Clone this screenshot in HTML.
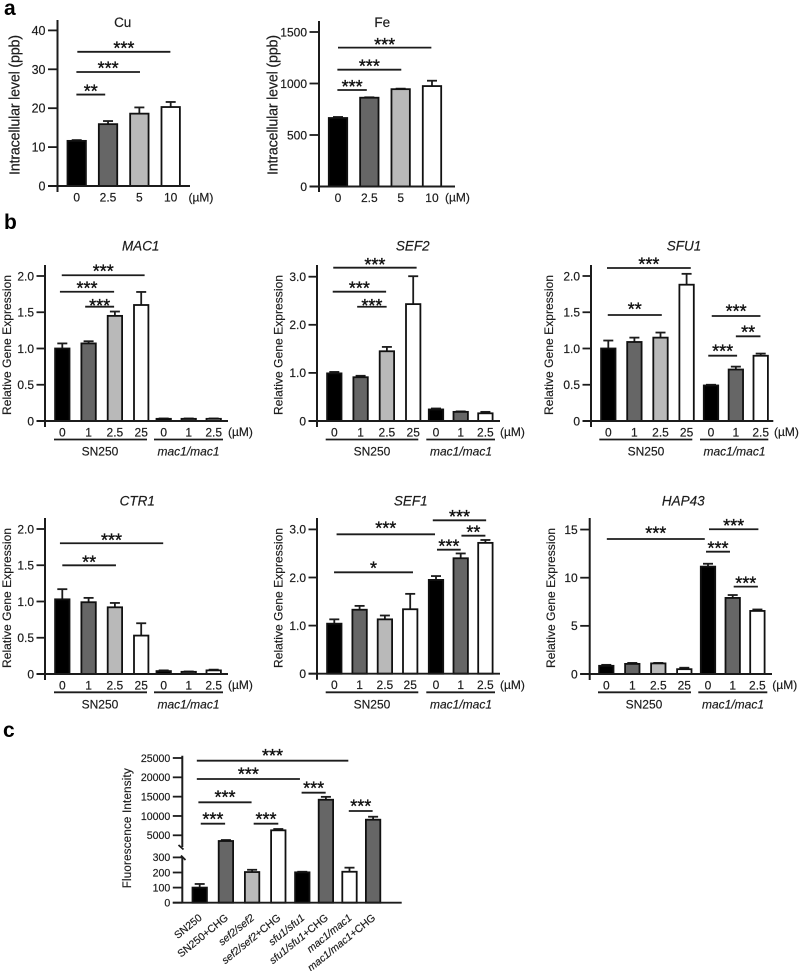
<!DOCTYPE html>
<html lang="en">
<head>
<meta charset="utf-8">
<title>Intracellular metal levels, gene expression and fluorescence intensity</title>
<style>
html,body{margin:0;padding:0;background:#fff;}
svg{display:block;filter:blur(0.3px);}
text{font-family:"Liberation Sans",Arial,sans-serif;fill:#1c1c1c;stroke:#1c1c1c;stroke-width:0.18;}
.tick{font-size:12px;}
.title{font-size:13.5px;text-anchor:middle;}
.it{font-style:italic;}
.ylab{font-size:12px;text-anchor:middle;}
.ylab-large{font-size:14.3px;text-anchor:middle;}
.ylab-small{font-size:11.5px;text-anchor:middle;}
.grp{font-size:12px;text-anchor:middle;}
.unit{font-size:12px;}
.letter{font-size:21px;font-weight:bold;fill:#000;stroke:none;}
.stars{font-size:18px;text-anchor:middle;fill:#111;stroke:#111;stroke-width:0.35;}
.rule{stroke:#1c1c1c;stroke-width:1.8;fill:none;}
</style>
</head>
<body>
<svg id="figure" xmlns="http://www.w3.org/2000/svg" width="800" height="971" viewBox="0 0 800 971">
  <rect x="0" y="0" width="800" height="971" fill="#ffffff"/>

  <text class="letter" x="4" y="15">a</text>
  <text class="letter" x="4" y="229">b</text>
  <text class="letter" x="3" y="737">c</text>

  <g id="chart-cu">
    <text class="title" x="122.7" y="27">Cu</text>
    <text class="ylab-large" transform="translate(19.5 105) rotate(-90)" textLength="140">Intracellular level (ppb)</text>
    <text class="unit" x="188.5" y="201.5">(µM)</text>
  </g>
  <g id="chart-fe">
    <text class="title" x="382.3" y="27">Fe</text>
    <text class="ylab-large" transform="translate(277.7 105) rotate(-90)" textLength="140">Intracellular level (ppb)</text>
    <text class="unit" x="445" y="201.5">(µM)</text>
  </g>

  <g id="chart-mac1">
    <text class="title it" x="140.7" y="250.5">MAC1</text>
    <text class="ylab" transform="translate(11 345) rotate(-90)" textLength="140">Relative Gene Expression</text>
    <text class="unit" x="228" y="436">(µM)</text>
    <line class="rule" x1="54" x2="147" y1="439.5" y2="439.5"/>
    <line class="rule" x1="154" x2="223" y1="439.5" y2="439.5"/>
    <text class="grp" x="100" y="455.3">SN250</text>
    <text class="grp it" x="188.5" y="455.3">mac1/mac1</text>
  </g>
  <g id="chart-sef2">
    <text class="title it" x="412.7" y="250.5">SEF2</text>
    <text class="ylab" transform="translate(282.5 345) rotate(-90)" textLength="140">Relative Gene Expression</text>
    <text class="unit" x="500" y="436">(µM)</text>
    <line class="rule" x1="325.7" x2="418.3" y1="439.5" y2="439.5"/>
    <line class="rule" x1="426.3" x2="495" y1="439.5" y2="439.5"/>
    <text class="grp" x="372" y="455.3">SN250</text>
    <text class="grp it" x="461" y="455.3">mac1/mac1</text>
  </g>
  <g id="chart-sfu1">
    <text class="title it" x="684" y="250.5">SFU1</text>
    <text class="ylab" transform="translate(553 345) rotate(-90)" textLength="140">Relative Gene Expression</text>
    <text class="unit" x="774" y="436">(µM)</text>
    <line class="rule" x1="599.3" x2="692.3" y1="439.5" y2="439.5"/>
    <line class="rule" x1="700" x2="768.3" y1="439.5" y2="439.5"/>
    <text class="grp" x="646" y="455.3">SN250</text>
    <text class="grp it" x="734.5" y="455.3">mac1/mac1</text>
  </g>

  <g id="chart-ctr1">
    <text class="title it" x="137.3" y="505.5">CTR1</text>
    <text class="ylab" transform="translate(11 598) rotate(-90)" textLength="140">Relative Gene Expression</text>
    <text class="unit" x="228" y="689">(µM)</text>
    <line class="rule" x1="54" x2="147" y1="692.3" y2="692.3"/>
    <line class="rule" x1="154" x2="223" y1="692.3" y2="692.3"/>
    <text class="grp" x="100" y="708.5">SN250</text>
    <text class="grp it" x="188.5" y="708.5">mac1/mac1</text>
  </g>
  <g id="chart-sef1">
    <text class="title it" x="410.7" y="505.5">SEF1</text>
    <text class="ylab" transform="translate(282.5 598) rotate(-90)" textLength="140">Relative Gene Expression</text>
    <text class="unit" x="500" y="689">(µM)</text>
    <line class="rule" x1="325.7" x2="418.3" y1="692.3" y2="692.3"/>
    <line class="rule" x1="426.3" x2="495" y1="692.3" y2="692.3"/>
    <text class="grp" x="372" y="708.5">SN250</text>
    <text class="grp it" x="461" y="708.5">mac1/mac1</text>
  </g>
  <g id="chart-hap43">
    <text class="title it" x="683.3" y="505.5">HAP43</text>
    <text class="ylab" transform="translate(555 598) rotate(-90)" textLength="140">Relative Gene Expression</text>
    <text class="unit" x="772.3" y="689">(µM)</text>
    <line class="rule" x1="598" x2="691" y1="692.3" y2="692.3"/>
    <line class="rule" x1="698.3" x2="767.3" y1="692.3" y2="692.3"/>
    <text class="grp" x="644" y="708.5">SN250</text>
    <text class="grp it" x="733" y="708.5">mac1/mac1</text>
  </g>

  <g id="chart-fluorescence">
    <text class="ylab-small" transform="translate(131 828.3) rotate(-90)" textLength="120">Fluorescence Intensity</text>
    <line class="rule" x1="178.5" y1="845" x2="183.5" y2="849.5"/>
    <line class="rule" x1="181" y1="855.5" x2="185.5" y2="860"/>
  </g>
</svg>

<script>
// ---------- chart data ----------
const doseLabels = ['0', '1', '2.5', '25', '0', '1', '2.5'];
const metalDoseLabels = ['0', '2.5', '5', '10'];
const strainLabels = ['SN250', 'SN250+CHG', 'sef2/sef2', 'sef2/sef2+CHG', 'sfu1/sfu1', 'sfu1/sfu1+CHG', 'mac1/mac1', 'mac1/mac1+CHG'];

const cuValues = [11.6, 15.9, 18.6, 20.3];
const cuErrors = [0.2, 0.8, 1.6, 1.3];
const cuTicks = [0, 10, 20, 30, 40];
const cuTickLabels = ['0', '10', '20', '30', '40'];
const cuBrackets = [
  {from: 0.02, to: 2.99, level: 34.5, stars: '***', gap: 7.7},
  {from: -0.01, to: 2.02, level: 29.3, stars: '***', gap: 7.7},
  {from: -0.01, to: 0.91, level: 23.5, stars: '**', gap: 7.7}
];

const feValues = [665, 862, 945, 975];
const feErrors = [10, 4, 5, 52];
const feTicks = [0, 500, 1000, 1500];
const feTickLabels = ['0', '500', '1000', '1500'];
const feBrackets = [
  {from: 0, to: 2.98, level: 1348, stars: '***', gap: 7},
  {from: -0.02, to: 2.02, level: 1134, stars: '***', gap: 7.4},
  {from: -0.02, to: 0.92, level: 937, stars: '***', gap: 7.3}
];

const relTicks2 = [0, 0.5, 1, 1.5, 2];
const relTickLabels2 = ['0', '0.5', '1.0', '1.5', '2.0'];
const relTicks3 = [0, 1, 2, 3];
const relTickLabels3 = ['0', '1.0', '2.0', '3.0'];

const mac1Values = [1.0, 1.07, 1.45, 1.6, 0.03, 0.03, 0.03];
const mac1Errors = [0.07, 0.03, 0.06, 0.18, 0.005, 0.005, 0.005];
const mac1Brackets = [
  {from: -0.02, to: 3.13, level: 2.01, stars: '***', gap: 8.3},
  {from: -0.09, to: 1.97, level: 1.783, stars: '***', gap: 7.7},
  {from: 0.87, to: 1.97, level: 1.577, stars: '***', gap: 5}
];

const sef2Values = [0.99, 0.91, 1.45, 2.43, 0.24, 0.19, 0.16];
const sef2Errors = [0.03, 0.03, 0.09, 0.58, 0.02, 0.01, 0.03];
const sef2Brackets = [
  {from: -0.04, to: 3.13, level: 3.187, stars: '***', gap: 7},
  {from: -0.06, to: 1.97, level: 2.688, stars: '***', gap: 7.4},
  {from: 0.87, to: 1.99, level: 2.376, stars: '***', gap: 5}
];

const sfu1Values = [1.0, 1.09, 1.15, 1.88, 0.49, 0.71, 0.9];
const sfu1Errors = [0.11, 0.06, 0.07, 0.15, 0.01, 0.04, 0.03];
const sfu1Brackets = [
  {from: -0.05, to: 3.16, level: 2.11, stars: '***', gap: 7.7},
  {from: -0.02, to: 2.05, level: 1.462, stars: '**', gap: 9.7},
  {from: 4.03, to: 5.99, level: 1.448, stars: '***', gap: 8.7},
  {from: 5.0, to: 5.99, level: 1.168, stars: '**', gap: 8},
  {from: 3.89, to: 5.05, level: 0.901, stars: '***', gap: 8.4}
];

const ctr1Values = [1.03, 0.99, 0.92, 0.53, 0.04, 0.03, 0.05];
const ctr1Errors = [0.14, 0.06, 0.06, 0.17, 0.01, 0.005, 0.01];
const ctr1Brackets = [
  {from: -0.09, to: 3.98, level: 1.803, stars: '***', gap: 7.3},
  {from: 0, to: 2.04, level: 1.499, stars: '**', gap: 7.3}
];

const sef1Values = [1.04, 1.33, 1.13, 1.34, 1.95, 2.4, 2.72];
const sef1Errors = [0.09, 0.08, 0.08, 0.32, 0.08, 0.1, 0.06];
const sef1Brackets = [
  {from: 0.09, to: 3.96, level: 2.898, stars: '***', gap: 10.3},
  {from: -0.01, to: 3.11, level: 2.108, stars: '*', gap: 8.3},
  {from: 3.87, to: 6.03, level: 3.189, stars: '***', gap: 7.6},
  {from: 5.03, to: 6.0, level: 2.869, stars: '**', gap: 7.4},
  {from: 4.04, to: 5.0, level: 2.578, stars: '***', gap: 7.4}
];

const hap43Values = [0.85, 1.05, 1.1, 0.5, 11.15, 7.9, 6.55];
const hap43Errors = [0.1, 0.1, 0.05, 0.15, 0.3, 0.3, 0.15];
const hap43Ticks = [0, 5, 10, 15];
const hap43TickLabels = ['0', '5', '10', '15'];
const hap43Brackets = [
  {from: 0.02, to: 3.87, level: 14.02, stars: '***', gap: 10},
  {from: 4.04, to: 6.04, level: 15.03, stars: '***', gap: 7.6},
  {from: 3.92, to: 4.89, level: 12.7, stars: '***', gap: 7.4},
  {from: 5.04, to: 6.02, level: 9.07, stars: '***', gap: 7.4}
];

const fluorValues = [100, 3525, 203, 6290, 201, 14200, 205, 9036];
const fluorErrors = [24, 255, 15, 340, 4, 750, 27, 774];
const fluorTicks = [0, 100, 200, 300, 5000, 10000, 15000, 20000, 25000];
const fluorTickLabels = ['0', '100', '200', '300', '5000', '10000', '15000', '20000', '25000'];
const fluorBrackets = [
  {from: -0.11, to: 5.95, level: 24301, stars: '***', gap: 9},
  {from: -0.11, to: 3.9, level: 19566, stars: '***', gap: 8.7},
  {from: -0.05, to: 1.98, level: 13538, stars: '***', gap: 9},
  {from: 0.04, to: 0.97, level: 8001, stars: '***', gap: 8.7},
  {from: 2.06, to: 3.0, level: 8001, stars: '***', gap: 8.7},
  {from: 3.97, to: 4.99, level: 16022, stars: '***', gap: 8.7},
  {from: 5.97, to: 6.98, level: 11287, stars: '***', gap: 8.7}
];

// ---------- drawing helpers ----------
const NS = 'http://www.w3.org/2000/svg';
const INK = '#1c1c1c';
const BLACK = '#000000', DARK = '#666666', LIGHT = '#b9b9b9', WHITE = '#ffffff';

function node(parent, tag, attrs, text) {
  const el = document.createElementNS(NS, tag);
  Object.keys(attrs).forEach(function (k) { el.setAttribute(k, attrs[k]); });
  if (text !== undefined) el.textContent = text;
  parent.appendChild(el);
  return el;
}

function linearY(base, pxPerUnit) {
  return function (v) { return base - v * pxPerUnit; };
}
function brokenY(base, lowPx, anchorValue, anchorY, highPx, limit) {
  return function (v) {
    return v <= limit ? base - v * lowPx : anchorY - (v - anchorValue) * highPx;
  };
}
function bandX(start1, step1, start2, step2) {
  return function (i) {
    return i < 3.6 ? start1 + i * step1 : start2 + (i - 4) * step2;
  };
}

function drawBars(g, x, y, values, errors, fills, barWidth) {
  const y0 = y(0);
  values.forEach(function (v, i) {
    const cx = x(i);
    const top = y(v + errors[i]);
    const stem = node(g, 'line', {x1: cx, x2: cx, y1: y(v), y2: top, stroke: INK, 'stroke-width': 1.8});
    
    
    const cap = node(g, 'line', {x1: cx - 5, x2: cx + 5, y1: top, y2: top, stroke: INK, 'stroke-width': 1.8});
    
    
  });
  values.forEach(function (v, i) {
    const cx = x(i);
    const bar = node(g, 'rect', {x: cx - barWidth / 2, y: y(v), width: barWidth, height: Math.max(0, y0 - y(v)), fill: fills[i % fills.length], stroke: '#111', 'stroke-width': 1.8});
    
    
  });
}

function drawAxes(g, geo, y, ticks, tickLabels) {
  const y0 = y(0);
  const segments = geo.breakAt ? [[geo.top, geo.breakAt[0]], [geo.breakAt[1], y0 + geo.below]] : [[geo.top, y0 + geo.below]];
  segments.forEach(function (s) {
    const axis = node(g, 'line', {x1: geo.axisX, x2: geo.axisX, y1: s[0], y2: s[1], stroke: INK, 'stroke-width': 2});
    
    
  });
  const xAxis = node(g, 'line', {x1: geo.axisX - geo.tickLen, x2: geo.right, y1: y0, y2: y0, stroke: INK, 'stroke-width': 1.9});
  
  
  ticks.forEach(function (t, i) {
    const py = y(t);
    const tick = node(g, 'line', {x1: geo.axisX - geo.tickLen, x2: geo.axisX, y1: py, y2: py, stroke: INK, 'stroke-width': 1.8});
    
    
    const label = node(g, 'text', {class: 'tick', x: geo.axisX - geo.tickLen - 2.5, y: py + geo.tickFont * 0.36, 'text-anchor': 'end', style: 'font-size:' + geo.tickFont + 'px'}, tickLabels[i]);
    
    
  });
}

function drawCategoryLabels(g, x, y, labels) {
  labels.forEach(function (txt, i) {
    const label = node(g, 'text', {class: 'tick', x: x(i), y: y(0) + 15.5, 'text-anchor': 'middle'}, txt);
    
    
  });
}

function drawBrackets(g, x, y, brackets) {
  brackets.forEach(function (b) {
    const x1 = x(b.from), x2 = x(b.to), py = y(b.level);
    const line = node(g, 'line', {x1: x1, x2: x2, y1: py, y2: py, stroke: INK, 'stroke-width': 1.8});
    
    
    const stars = node(g, 'text', {class: 'stars', x: (x1 + x2) / 2, y: py - b.gap + 10.4}, b.stars);
    
    
  });
}

function drawChart(id, opt) {
  const g = document.getElementById(id);
  drawBars(g, opt.x, opt.y, opt.values, opt.errors, opt.fills, opt.barWidth);
  drawAxes(g, opt.geo, opt.y, opt.ticks, opt.tickLabels);
  if (opt.categories) drawCategoryLabels(g, opt.x, opt.y, opt.categories);
  drawBrackets(g, opt.x, opt.y, opt.brackets);
}

const metalFills = [BLACK, DARK, LIGHT, WHITE];
const doseFills = [BLACK, DARK, LIGHT, WHITE, BLACK, DARK, WHITE];
const strainFills = [BLACK, DARK, LIGHT, WHITE, BLACK, DARK, WHITE, DARK];

drawChart('chart-cu', {
  x: bandX(76.7, 31.33, 76.7, 31.33), y: linearY(186, 3.89),
  values: cuValues, errors: cuErrors, ticks: cuTicks, tickLabels: cuTickLabels,
  categories: metalDoseLabels, brackets: cuBrackets, fills: metalFills, barWidth: 18.4,
  geo: {axisX: 57.5, top: 20, below: 6, tickLen: 9.5, right: 190, tickFont: 12.5}
});
drawChart('chart-fe', {
  x: bandX(338, 31.33, 338, 31.33), y: linearY(186.5, 0.103),
  values: feValues, errors: feErrors, ticks: feTicks, tickLabels: feTickLabels,
  categories: metalDoseLabels, brackets: feBrackets, fills: metalFills, barWidth: 18.4,
  geo: {axisX: 319, top: 21, below: 5.5, tickLen: 9.5, right: 455, tickFont: 12}
});
drawChart('chart-mac1', {
  x: bandX(62.3, 26.3, 163.7, 25), y: linearY(421, 72.5),
  values: mac1Values, errors: mac1Errors, ticks: relTicks2, tickLabels: relTickLabels2,
  categories: doseLabels, brackets: mac1Brackets, fills: doseFills, barWidth: 14.4,
  geo: {axisX: 45, top: 265, below: 6, tickLen: 8.5, right: 228, tickFont: 12}
});
drawChart('chart-sef2', {
  x: bandX(334.3, 26.3, 436, 24.7), y: linearY(421, 48.1),
  values: sef2Values, errors: sef2Errors, ticks: relTicks3, tickLabels: relTickLabels3,
  categories: doseLabels, brackets: sef2Brackets, fills: doseFills, barWidth: 14.4,
  geo: {axisX: 317, top: 265, below: 6, tickLen: 8.5, right: 500, tickFont: 12}
});
drawChart('chart-sfu1', {
  x: bandX(608.3, 26.1, 711, 24.85), y: linearY(421, 72.5),
  values: sfu1Values, errors: sfu1Errors, ticks: relTicks2, tickLabels: relTickLabels2,
  categories: doseLabels, brackets: sfu1Brackets, fills: doseFills, barWidth: 14.4,
  geo: {axisX: 591, top: 265, below: 6, tickLen: 8.5, right: 773.3, tickFont: 12}
});
drawChart('chart-ctr1', {
  x: bandX(62.3, 26.3, 163.7, 25), y: linearY(674, 72.5),
  values: ctr1Values, errors: ctr1Errors, ticks: relTicks2, tickLabels: relTickLabels2,
  categories: doseLabels, brackets: ctr1Brackets, fills: doseFills, barWidth: 14.4,
  geo: {axisX: 45, top: 518, below: 6, tickLen: 8.5, right: 228, tickFont: 12}
});
drawChart('chart-sef1', {
  x: bandX(334.3, 25.3, 436, 24.7), y: linearY(673.7, 48.1),
  values: sef1Values, errors: sef1Errors, ticks: relTicks3, tickLabels: relTickLabels3,
  categories: doseLabels, brackets: sef1Brackets, fills: doseFills, barWidth: 14.4,
  geo: {axisX: 317, top: 518, below: 6, tickLen: 8.5, right: 500, tickFont: 12}
});
drawChart('chart-hap43', {
  x: bandX(606.3, 26, 708, 24.7), y: linearY(674, 9.63),
  values: hap43Values, errors: hap43Errors, ticks: hap43Ticks, tickLabels: hap43TickLabels,
  categories: doseLabels, brackets: hap43Brackets, fills: doseFills, barWidth: 14.4,
  geo: {axisX: 589.7, top: 518, below: 6, tickLen: 9.5, right: 772, tickFont: 12}
});

const fluorX = bandX(199.7, 26.2, 302.3, 23.6);
const fluorY = brokenY(902.7, 0.151, 5000, 835.3, 0.003865, 350);
drawChart('chart-fluorescence', {
  x: fluorX, y: fluorY,
  values: fluorValues, errors: fluorErrors, ticks: fluorTicks, tickLabels: fluorTickLabels,
  brackets: fluorBrackets, fills: strainFills, barWidth: 14.4,
  geo: {axisX: 182.3, top: 755.7, below: 0.8, tickLen: 9.5, right: 401.7, tickFont: 10.6, breakAt: [847, 857.5]}
});

// rotated strain labels with an italic genotype part
const fluorGroup = document.getElementById('chart-fluorescence');
strainLabels.forEach(function (name, i) {
  const px = fluorX(i) + 3;
  const label = node(fluorGroup, 'text', {x: px, y: 919, 'text-anchor': 'end', transform: 'rotate(-39 ' + px + ' 919)', style: 'font-size:10.5px'});
  
  
  const parts = name.split('+');
  node(label, 'tspan', {'font-style': name.indexOf('/') >= 0 ? 'italic' : 'normal'}, parts[0]);
  if (parts[1]) node(label, 'tspan', {}, '+' + parts[1]);
});
</script>
</body>
</html>
